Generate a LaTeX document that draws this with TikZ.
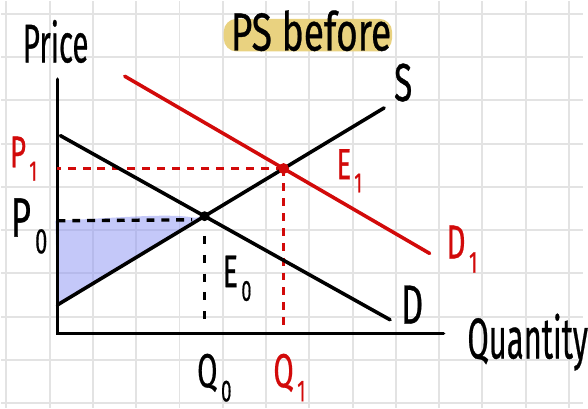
\documentclass[tikz,border=0pt]{standalone}
\usepackage{fontspec}
\setmainfont{Fira Sans}[FakeBold=0.7]
\usetikzlibrary{intersections}
\definecolor{GridGray}{HTML}{E3E3E3}
\definecolor{ShiftRed}{HTML}{D20A0A}
\definecolor{Marker}{HTML}{E9D280}
\definecolor{SurplusBlue}{HTML}{8A92F4}
\newcommand{\subl}[2]{#1\kern0.12em\raisebox{-0.3em}{\scalebox{0.64}{#2}}}

\begin{document}
\begin{tikzpicture}[
  x=1pt,
  y=-1pt,
  curve/.style={line width=3.6pt,line cap=round},
  guide/.style={line width=3.4pt,dash pattern=on 8pt off 7pt},
  dot/.style={circle,fill,inner sep=0,minimum size=10pt},
  lbl/.style={font=\fontsize{#1}{#1}\selectfont,inner sep=0,anchor=base west,xscale=0.62},
  lbl/.default=46
]
  \fill[white] (0,0) rectangle (588,411);
  % grid paper
  \foreach \i in {0,...,13}
    \draw[GridGray,line width=2pt] ({5.5+43.7*\i},0) -- ({5.5+43.7*\i},411);
  \foreach \j in {0,...,9}
    \draw[GridGray,line width=2pt] (0,{13+43.7*\j}) -- (588,{13+43.7*\j});

  \coordinate (origin) at (57,336);
  \coordinate (ytop) at (57,79);
  \coordinate (xend) at (447,336);
  \coordinate (s0) at (57,307);
  \coordinate (s1) at (387,108);
  \coordinate (d0) at (60,136);
  \coordinate (d1) at (393,322);
  \coordinate (dd0) at (125,76);
  \coordinate (dd1) at (433,255);

  \path[name path=supply] (s0) -- (s1);
  \path[name path=demand] (d0) -- (d1);
  \path[name path=newdemand] (dd0) -- (dd1);
  \path[name intersections={of=supply and demand,by=e0}];
  \path[name intersections={of=supply and newdemand,by=e1}];

  % producer surplus
  \fill[SurplusBlue,fill opacity=0.5] (55,222) .. controls (120,219) and (170,214) .. (196,219)
    -- (e0) -- (s0) -- cycle;

  % axes
  \draw[curve] (ytop) -- (origin) -- (xend);

  % guides
  \draw[guide] (57,222) -- (193,221);
  \draw[guide,dash pattern=on 8pt off 11pt,shorten <=20pt] (e0) -- (e0 |- 328,328);
  \draw[guide,ShiftRed] (e1) -- (e1 -| origin);
  \draw[guide,ShiftRed] (e1) -- (e1 |- 330,330);

  % curves
  \draw[curve] (s0) -- (s1);
  \draw[curve] (d0) -- (d1);
  \draw[curve,ShiftRed] (dd0) -- (dd1);

  \node[dot] (E0) at (e0) {};
  \node[dot,ShiftRed,minimum size=11pt] (E1) at (e1) {};

  % title
  \fill[Marker,rounded corners=13pt] (225,18) rectangle (395,51);
  \node[lbl=54,xscale=1.12] (title) at (232,50) {PS before};

  % labels
  \node[lbl=55,xscale=0.87] (price) at (22,62) {Price};
  \node[lbl=58,xscale=0.87] (quantity) at (471,361) {Quantity};
  \node[lbl=54] (slab) at (397,101) {S};
  \node[lbl=56] (dlab) at (404,326) {D};
  \node[lbl=48,ShiftRed] (d1lab) at (450,260) {\subl{D}{1}};
  \node[lbl=44,ShiftRed] (e1lab) at (339,180) {\subl{E}{1}};
  \node[lbl=46] (e0lab) at (224,289) {\subl{E}{0}};
  \node[lbl=45,ShiftRed] (p1lab) at (9,168) {\subl{P}{1}};
  \node[lbl=56] (p0lab) at (10,238) {\subl{P}{0}};
  \node[lbl=48] (q0lab) at (198,390) {\subl{Q}{0}};
  \node[lbl=48,ShiftRed] (q1lab) at (275,390) {\subl{Q}{1}};
\end{tikzpicture}
\end{document}
